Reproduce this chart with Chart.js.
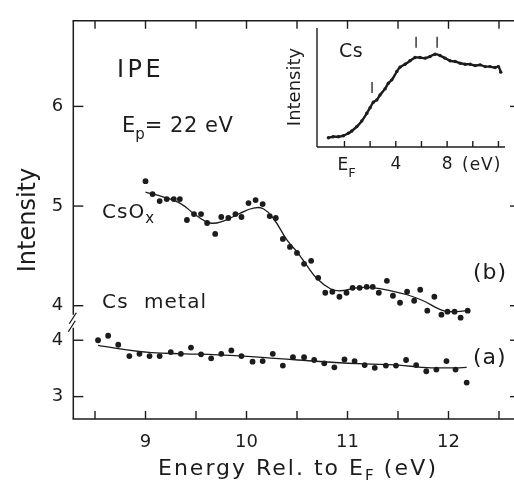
<!DOCTYPE html>
<html><head><meta charset="utf-8">
<script src="https://cdn.jsdelivr.net/npm/chart.js@4"></script>
<style>
html,body{margin:0;padding:0;background:#fff;overflow:hidden;width:514px;height:480px;}
#wrap{position:relative;width:514px;height:480px;overflow:hidden;background:#fff;}
#main{position:absolute;left:0;top:0;width:530px;height:480px;}
#inset{position:absolute;left:270px;top:15px;width:244px;height:175px;}
</style></head><body>
<div id="wrap"><canvas id="main" width="530" height="480"></canvas><canvas id="inset" width="244" height="175"></canvas></div>
<script>
// ---- data: (b) CsOx ----
const csoxEnergy = [9.00,9.07,9.14,9.21,9.28,9.34,9.41,9.48,9.55,9.61,9.69,9.75,9.82,9.89,9.95,10.02,10.09,10.16,10.23,10.29,10.36,10.43,10.50,10.57,10.64,10.71,10.78,10.85,10.92,10.99,11.05,11.12,11.19,11.25,11.31,11.39,11.45,11.52,11.59,11.66,11.72,11.79,11.86,11.93,11.99,12.06,12.12,12.19];
const csoxIntensity = [5.25,5.12,5.05,5.07,5.07,5.07,4.86,4.92,4.92,4.83,4.72,4.89,4.88,4.92,4.89,5.03,5.06,5.02,4.90,4.88,4.67,4.59,4.53,4.42,4.45,4.28,4.13,4.14,4.09,4.13,4.18,4.18,4.19,4.19,4.13,4.25,4.10,4.03,4.14,4.05,4.16,3.95,4.09,3.91,3.94,3.94,3.88,3.95];
const csoxFitEnergy = [9.00,9.18,9.34,9.51,9.64,9.77,9.94,10.07,10.17,10.27,10.40,10.50,10.60,10.69,10.83,10.93,11.09,11.26,11.43,11.59,11.75,11.92,12.01,12.19];
const csoxFitIntensity = [5.14,5.09,5.03,4.90,4.83,4.85,4.93,4.98,4.97,4.87,4.66,4.54,4.40,4.28,4.17,4.15,4.18,4.18,4.15,4.11,4.05,3.96,3.94,3.95];
// ---- data: (a) Cs metal ----
const csEnergy = [8.53,8.63,8.73,8.84,8.94,9.04,9.14,9.25,9.35,9.45,9.55,9.65,9.75,9.85,9.95,10.06,10.16,10.26,10.36,10.46,10.57,10.67,10.77,10.87,10.97,11.07,11.17,11.27,11.38,11.48,11.58,11.68,11.78,11.88,11.98,12.07,12.18];
const csIntensity = [4.00,4.08,3.92,3.72,3.76,3.72,3.72,3.79,3.76,3.87,3.75,3.68,3.76,3.82,3.72,3.62,3.63,3.76,3.55,3.70,3.70,3.65,3.59,3.52,3.66,3.63,3.56,3.51,3.55,3.55,3.65,3.56,3.45,3.48,3.63,3.48,3.25];
const csFitEnergy = [8.53,8.73,9.06,9.39,9.72,10.05,10.28,10.51,10.84,11.17,11.50,11.73,11.83,12.07,12.18];
const csFitIntensity = [3.91,3.85,3.78,3.76,3.74,3.71,3.68,3.65,3.61,3.58,3.56,3.52,3.51,3.51,3.52];
// ---- ticks ----
const xTickValues = [8.5,9,9.5,10,10.5,11,11.5,12,12.5];
const xTickLabels = ['', '9', '', '10', '', '11', '', '12', ''];
const yUpperTicks = [4,5,6];
const yLowerTicks = [3,4];
// ---- inset: Cs spectrum ----
const insetEnergy = [-1.25,-0.87,-0.47,-0.08,0.30,0.57,0.96,1.35,1.74,2.00,2.25,2.52,2.77,3.16,3.42,3.69,4.08,4.33,4.72,5.11,5.50,5.89,6.28,6.67,7.06,7.45,7.84,8.23,8.62,9.01,9.40,9.79,10.18,10.57,10.96,11.35,11.74,12.00,12.18];
const insetIntensity = [0.94,1.04,1.04,1.14,1.38,1.62,2.05,2.63,3.40,3.97,4.51,4.75,5.25,5.86,6.43,6.77,7.61,8.05,8.35,8.69,9.02,9.02,8.96,9.13,9.36,9.22,8.96,8.69,8.62,8.45,8.35,8.35,8.21,8.28,8.11,8.11,8.01,8.11,7.55];
const insetMarkEnergy = [2.15,5.58,7.22];
const insetMarkIntensity = [6.0,10.56,10.56];
const insetTickValues = [0,2,4,6,8,10,12];
const insetTickLabels = ['', '', '4', '', '8', '', ''];

const FONT = '"DejaVu Sans", sans-serif';
const INK = '#1c1c1c';
const pts = (xs, ys) => xs.map((v, i) => ({x: v, y: ys[i]}));

function line(ctx, x1, y1, x2, y2) { ctx.beginPath(); ctx.moveTo(x1, y1); ctx.lineTo(x2, y2); ctx.stroke(); }
function runs(ctx, parts, x, y) {
  for (const p of parts) {
    ctx.font = p.size + 'px ' + FONT;
    ctx.letterSpacing = (p.ls || 0) + 'px';
    ctx.fillText(p.t, x, y + (p.dy || 0));
    x += ctx.measureText(p.t).width;
  }
  ctx.letterSpacing = '0px';
  return x;
}

const mainDeco = {
  id: 'mainDeco',
  afterDraw(chart) {
    const {ctx, chartArea: a, scales} = chart;
    const x = scales.x, yU = scales.yU, yL = scales.yL;
    const brk = yU.bottom;
    ctx.save();
    ctx.strokeStyle = INK; ctx.lineWidth = 1.5; ctx.lineCap = 'butt';
    line(ctx, a.left - 0.75, a.top, a.right, a.top);
    line(ctx, a.left - 0.75, a.bottom, a.right, a.bottom);
    line(ctx, a.right, a.top, a.right, a.bottom);
    line(ctx, a.left, a.top, a.left, brk - 7);
    line(ctx, a.left, brk + 6, a.left, a.bottom);
    ctx.lineWidth = 1.3;
    line(ctx, a.left + 3, brk - 9, a.left - 4, brk + 2);
    line(ctx, a.left + 2, brk - 1, a.left - 5, brk + 10);
    ctx.lineWidth = 1.4;
    for (const v of xTickValues) {
      const px = x.getPixelForValue(v);
      line(ctx, px, a.bottom, px, a.bottom - 8);
      line(ctx, px, a.top, px, a.top + 8);
    }
    for (const [s, tv] of [[yU, yUpperTicks], [yL, yLowerTicks]]) {
      for (const v of tv) {
        const py = s.getPixelForValue(v);
        line(ctx, a.left, py, a.left + 10, py);
        line(ctx, a.right, py, a.right - 10, py);
      }
    }
    ctx.fillStyle = INK; ctx.textAlign = 'left'; ctx.textBaseline = 'alphabetic';
    runs(ctx, [{t: 'IPE', size: 24, ls: 3.5}], 117, 77);
    runs(ctx, [{t: 'E', size: 21}, {t: 'p', size: 15, dy: 7}, {t: '= 22 eV', size: 21, ls: 0.5}], 122, 132);
    runs(ctx, [{t: 'CsO', size: 20, ls: 1}, {t: 'x', size: 15, dy: 5}], 102, 218);
    runs(ctx, [{t: 'Cs  metal', size: 20, ls: 1.2}], 102, 308);
    runs(ctx, [{t: '(b)', size: 22, ls: 1}], 473, 279);
    runs(ctx, [{t: '(a)', size: 22, ls: 1}], 473, 364);
    // x title
    runs(ctx, [{t: 'Energy Rel. to E', size: 22, ls: 2}, {t: 'F', size: 15, dy: 6, ls: 1}, {t: ' (eV)', size: 22, ls: 2.2}], 158, 475);
    // y title
    ctx.save();
    ctx.translate(35, 220); ctx.rotate(-Math.PI / 2);
    ctx.textAlign = 'center'; ctx.font = '24px ' + FONT;
    ctx.fillText('Intensity', 0, 0);
    ctx.restore();
    ctx.restore();
  }
};

const setTicks = (vals) => (s) => { s.ticks = vals.map(v => ({value: v})); };

new Chart(document.getElementById('main'), {
  type: 'scatter',
  data: {
    datasets: [
      {data: pts(csoxEnergy, csoxIntensity), yAxisID: 'yU', pointRadius: 2.9, pointBackgroundColor: INK, pointBorderWidth: 0, showLine: false},
      {data: pts(csoxFitEnergy, csoxFitIntensity), yAxisID: 'yU', showLine: true, tension: 0.45, pointRadius: 0, borderColor: INK, borderWidth: 1.3},
      {data: pts(csEnergy, csIntensity), yAxisID: 'yL', pointRadius: 2.9, pointBackgroundColor: INK, pointBorderWidth: 0, showLine: false},
      {data: pts(csFitEnergy, csFitIntensity), yAxisID: 'yL', showLine: true, tension: 0.45, pointRadius: 0, borderColor: INK, borderWidth: 1.3}
    ]
  },
  options: {
    responsive: false, animation: false, devicePixelRatio: 1,
    layout: {padding: {top: 9.5, right: 10, left: 0, bottom: 0}},
    plugins: {legend: {display: false}, tooltip: {enabled: false}},
    scales: {
      x: {type: 'linear', position: 'bottom', min: 8.285, max: 12.708,
        afterBuildTicks: setTicks(xTickValues),
        afterFit: (s) => { s.height = 61; },
        grid: {display: false, drawTicks: false}, border: {display: false},
        ticks: {autoSkip: false, maxRotation: 0, padding: 13, color: INK, font: {family: FONT, size: 18},
          callback: (v, i) => xTickLabels[i]}},
      yL: {type: 'linear', position: 'left', stack: 'y', stackWeight: 100, min: 2.603, max: 4.328,
        afterBuildTicks: setTicks(yLowerTicks),
        afterFit: (s) => { s.width = 73.3; },
        grid: {display: false, drawTicks: false}, border: {display: false},
        ticks: {autoSkip: false, padding: 10, color: INK, font: {family: FONT, size: 18}}},
      yU: {type: 'linear', position: 'left', stack: 'y', stackWeight: 309.5, min: 3.839, max: 6.859,
        afterBuildTicks: setTicks(yUpperTicks),
        afterFit: (s) => { s.width = 73.3; },
        grid: {display: false, drawTicks: false}, border: {display: false},
        ticks: {autoSkip: false, padding: 10, color: INK, font: {family: FONT, size: 18}}}
    }
  },
  plugins: [mainDeco]
});

const insetDeco = {
  id: 'insetDeco',
  afterDraw(chart) {
    const {ctx, chartArea: a, scales: {x}} = chart;
    ctx.save();
    ctx.strokeStyle = INK; ctx.lineWidth = 1.4;
    line(ctx, a.left, a.top, a.left, a.bottom);
    line(ctx, a.left, a.bottom, a.right, a.bottom);
    for (const v of insetTickValues) {
      const px = x.getPixelForValue(v);
      line(ctx, px, a.bottom, px, a.bottom - 6);
    }
    ctx.fillStyle = INK; ctx.textBaseline = 'alphabetic'; ctx.textAlign = 'left';
    runs(ctx, [{t: 'Cs', size: 19, ls: 0.5}], 69, 42);
    runs(ctx, [{t: 'E', size: 17}, {t: 'F', size: 13, dy: 7}], x.getPixelForValue(0) - 7, 155);
    runs(ctx, [{t: '(eV)', size: 17, ls: 1}], 192, 155);
    ctx.save();
    ctx.translate(30, 72); ctx.rotate(-Math.PI / 2);
    ctx.textAlign = 'center'; ctx.font = '18px ' + FONT;
    ctx.fillText('Intensity', 0, 0);
    ctx.restore();
    ctx.restore();
  }
};

new Chart(document.getElementById('inset'), {
  type: 'scatter',
  data: {
    datasets: [
      {data: pts(insetEnergy, insetIntensity), showLine: true, tension: 0.3, borderColor: INK, borderWidth: 2.4, pointRadius: 1.7, pointBackgroundColor: INK, pointBorderWidth: 0},
      {data: pts(insetMarkEnergy, insetMarkIntensity), showLine: false, pointStyle: 'line', rotation: 90, pointRadius: 5.5, borderColor: INK, borderWidth: 1.3}
    ]
  },
  options: {
    responsive: false, animation: false, devicePixelRatio: 1,
    layout: {padding: {top: 13, right: 9, left: 47, bottom: 0}},
    plugins: {legend: {display: false}, tooltip: {enabled: false}},
    scales: {
      x: {type: 'linear', position: 'bottom', min: -2.14, max: 12.51,
        afterBuildTicks: setTicks(insetTickValues),
        afterFit: (s) => { s.height = 43; },
        grid: {display: false, drawTicks: false}, border: {display: false},
        ticks: {autoSkip: false, maxRotation: 0, padding: 7, color: INK, font: {family: FONT, size: 17},
          callback: (v, i) => insetTickLabels[i]}},
      y: {type: 'linear', display: false, min: 0, max: 12}
    }
  },
  plugins: [insetDeco]
});
</script>
</body></html>
